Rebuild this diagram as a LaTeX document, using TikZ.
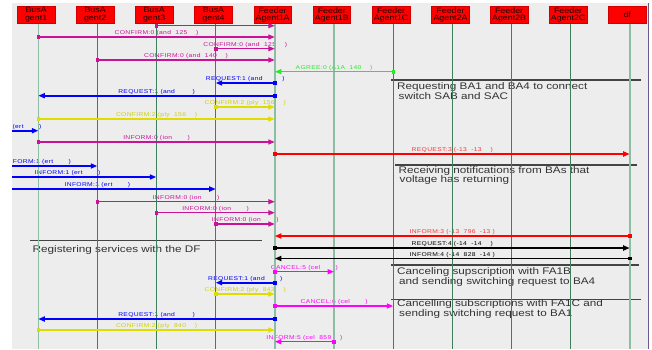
\documentclass[tikz,border=0pt]{standalone}
\usepackage{fontspec}
\setmainfont{Liberation Sans}
\newfontfamily\lblfont[FakeStretch=1.2,LetterSpace=6]{Liberation Sans}
\newfontfamily\annfont[FakeStretch=1.22]{Liberation Sans}
\newfontfamily\boxfont[FakeStretch=1.15]{Liberation Sans}
\usetikzlibrary{arrows.meta}
\pgfdeclarelayer{bg}
\pgfdeclarelayer{life}
\pgfsetlayers{bg,life,main}
\definecolor{bgray}{HTML}{EDEDED}
\definecolor{boxred}{HTML}{FF0000}
\definecolor{boxborder}{HTML}{D00000}
\definecolor{boxtext}{HTML}{1A0000}
\definecolor{lifed}{HTML}{3E7E5C}
\definecolor{lifel}{HTML}{8DBEA4}
\definecolor{cmag}{HTML}{CC1199}
\definecolor{cmagb}{HTML}{FF00FF}
\definecolor{cgreen}{HTML}{22EE22}
\definecolor{cblue}{HTML}{0000FF}
\definecolor{cyel}{HTML}{DDDD00}
\definecolor{cyelt}{HTML}{D0D000}
\definecolor{cred}{HTML}{FF0000}
\definecolor{credt}{HTML}{FF3333}
\definecolor{sepc}{HTML}{444444}
\definecolor{anntext}{HTML}{333333}
\definecolor{edgec}{HTML}{6A5A8A}
\tikzset{
  agent/.style={draw=boxborder, line width=0.6pt, fill=boxred, minimum width=37.5pt, minimum height=17.5pt,
    inner sep=0pt, align=center, font=\boxfont\fontsize{7.7}{7.8}\selectfont, text=boxtext},
  lifedark/.style={draw=lifed, line width=1pt},
  lifelight/.style={draw=lifel, line width=1.6pt},
  msg/.style={-{Triangle[length=6.5pt,width=5pt]}},
  lbl/.style={font=\lblfont\fontsize{5.6}{6}\selectfont, inner sep=0pt, anchor=base},
  sq/.style={minimum size=3.6pt, inner sep=0pt, rectangle},
  sepline/.style={draw=sepc, line width=1.1pt},
  ann/.style={font=\annfont\fontsize{9.6}{10}\selectfont, text=anntext, inner sep=0pt, anchor=base west},
}
% #1 width, #2 colour, #3 from, #4 to, #5 y, #6 label colour, #7 label
\newcommand\Msg[7][1.3pt]{%
  \draw[msg, color=#2, line width=#1] (#3 |- 0,#5) -- (#4 |- 0,#5) coordinate[midway] (m);
  \node[sq, fill=#2] at (#3 |- 0,#5) {};
  \begin{pgfonlayer}{bg}\node[lbl, text=#6, yshift=2.4pt] at (m) {#7};\end{pgfonlayer}%
}
\begin{document}
\begin{tikzpicture}[x=1pt, y=-1pt]
\useasboundingbox (0,0) rectangle (652,349);
\begin{pgfonlayer}{bg}
  \fill[bgray] (12,3) rectangle (648,349);
\end{pgfonlayer}
% lifeline positions
\coordinate (ext) at (-21,24);
\coordinate (L1) at (38.3,24);
\coordinate (L2) at (97.3,24);
\coordinate (L3) at (156.3,24);
\coordinate (L4) at (215.7,24);
\coordinate (L5) at (274.8,24);
\coordinate (L6) at (334,24);
\coordinate (L7) at (393.3,24);
\coordinate (L8) at (452.7,24);
\coordinate (L9) at (511.3,24);
\coordinate (L10) at (570.3,24);
\coordinate (L11) at (629.7,24);
% agent boxes
\node[agent] (b1) at (36.1,15) {BusA\\gent1};
\node[agent] (b2) at (95.1,15) {BusA\\gent2};
\node[agent] (b3) at (154.1,15) {BusA\\gent3};
\node[agent] (b4) at (213.5,15) {BusA\\gent4};
\node[agent] (b5) at (272.6,15) {Feeder\\Agent1A};
\node[agent] (b6) at (331.8,15) {Feeder\\Agent1B};
\node[agent] (b7) at (391.1,15) {Feeder\\Agent1C};
\node[agent] (b8) at (450.5,15) {Feeder\\Agent2A};
\node[agent] (b9) at (509.1,15) {Feeder\\Agent2B};
\node[agent] (b10) at (568.1,15) {Feeder\\Agent2C};
\node[agent] (b11) at (627.5,15) {df};
% lifelines
\begin{pgfonlayer}{life}
  \foreach \l in {L1,L5,L6,L11} \draw[lifelight] (\l) -- (\l |- 0,349);
  \foreach \l in {L2,L3,L4,L7,L8,L9,L10} \draw[lifedark] (\l) -- (\l |- 0,349);
\end{pgfonlayer}
% annotations
\begin{pgfonlayer}{bg}
  \coordinate (s1a) at (391,80);  \coordinate (s1b) at (641,80);
  \draw[sepline] (s1a) -- (s1b);
  \node[ann] (t1a) at (397,89.5) {Requesting BA1 and BA4 to connect};
  \node[ann] (t1b) at (398.5,99) {switch SAB and SAC};
  \coordinate (s2a) at (395,165); \coordinate (s2b) at (637,165);
  \draw[sepline] (s2a) -- (s2b);
  \node[ann] (t2a) at (398.5,173) {Receiving notifications from BAs that};
  \node[ann] (t2b) at (399.5,182.8) {voltage has returning};
  \coordinate (s3a) at (30,240.7); \coordinate (s3b) at (262,240.7);
  \draw[sepline] (s3a) -- (s3b);
  \node[ann] (t3) at (32.5,252) {Registering services with the DF};
  \coordinate (s4a) at (391,265); \coordinate (s4b) at (639,265);
  \draw[sepline] (s4a) -- (s4b);
  \node[ann] (t4a) at (397,274.5) {Canceling supscription with FA1B};
  \node[ann] (t4b) at (399,284.3) {and sending switching request to BA4};
  \coordinate (s5a) at (391,299.3); \coordinate (s5b) at (641,299.3);
  \draw[sepline] (s5a) -- (s5b);
  \node[ann] (t5a) at (397,306.5) {Cancelling subscriptions with FA1C and};
  \node[ann] (t5b) at (399,316.3) {sending switching request to BA1};
\end{pgfonlayer}
% messages
\draw[msg, color=cmag, line width=1.3pt] (L3 |- 0,25.7) -- (L5 |- 0,25.7);
\node[sq, fill=cmag] (q0) at (L3 |- 0,25.7) {};
\Msg{cmag}{L1}{L5}{37}{cmag}{CONFIRM:0 (and~~125~~~~)}
\Msg{cmag}{L4}{L5}{48.7}{cmag}{CONFIRM:0 (and~~125~~~~)}
\Msg{cmag}{L2}{L5}{60}{cmag}{CONFIRM:0 (and~~140~~~~)}
\Msg{cgreen}{L7}{L5}{71.7}{cgreen}{AGREE:0 (A1A~~140~~~~)}
\Msg[1.8pt]{cblue}{L5}{L4}{83}{cblue}{REQUEST:1 (and~~~~~~~~~)}
\Msg[1.8pt]{cblue}{L5}{L1}{95.7}{cblue}{REQUEST:1 (and~~~~~~~~)}
\Msg{cyel}{L4}{L5}{107}{cyelt}{CONFIRM:2 (ply~~156~~~~)}
\Msg{cyel}{L1}{L5}{119}{cyelt}{CONFIRM:2 (ply~~156~~~~)}
\Msg[1.8pt]{cblue}{ext}{L1}{130.7}{cblue}{INFORM:1 (ert~~~~~~~)}
\Msg{cmag}{L1}{L5}{142}{cmag}{INFORM:0 (ion~~~~~~~)}
\Msg[1.8pt]{cred}{L5}{L11}{154}{credt}{REQUEST:3 (-13~~-13~~~~)}
\Msg[1.8pt]{cblue}{ext}{L2}{166}{cblue}{INFORM:1 (ert~~~~~~~)}
\Msg[1.8pt]{cblue}{ext}{L3}{177}{cblue}{INFORM:1 (ert~~~~~~~)}
\Msg[1.8pt]{cblue}{ext}{L4}{189}{cblue}{INFORM:1 (ert~~~~~~~)}
\Msg{cmag}{L2}{L5}{201.7}{cmag}{INFORM:0 (ion~~~~~~~)}
\Msg{cmag}{L3}{L5}{212.7}{cmag}{INFORM:0 (ion~~~~~~~)}
\Msg{cmag}{L4}{L5}{224}{cmag}{INFORM:0 (ion~~~~~~~)}
\Msg[1.8pt]{cred}{L11}{L5}{236}{credt}{INFORM:3 (-13~~796~~-13~)}
\Msg[1.8pt]{black}{L5}{L11}{248}{black}{REQUEST:4 (-14~~-14~~~~)}
\Msg[1.8pt]{black}{L11}{L5}{258.5}{black}{INFORM:4 (-14~~828~~-14~)}
\Msg[1.5pt]{cmagb}{L5}{L6}{271.7}{cmagb}{CANCEL:5 (cel~~~~~~~)}
\Msg[1.8pt]{cblue}{L5}{L4}{282.7}{cblue}{REQUEST:1 (and~~~~~~~)}
\Msg{cyel}{L4}{L5}{294}{cyelt}{CONFIRM:2 (ply~~843~~~~)}
\Msg[1.5pt]{cmagb}{L5}{L7}{306}{cmagb}{CANCEL:6 (cel~~~~~~~)}
\Msg[1.8pt]{cblue}{L5}{L1}{319}{cblue}{REQUEST:1 (and~~~~~~~~)}
\Msg{cyel}{L1}{L5}{330}{cyelt}{CONFIRM:2 (ply~~840~~~~)}
\Msg[1.5pt]{cmagb}{L6}{L5}{341.7}{cmagb}{INFORM:5 (cel~~859~~~~)}
% outer margins
\fill[white] (-40,0) rectangle (12,349);
\fill[white] (0,0) rectangle (652,3);
\fill[white] (648,0) rectangle (652,349);
\draw[edgec, line width=1pt] (648,3) -- (648,349);
\end{tikzpicture}
\end{document}
